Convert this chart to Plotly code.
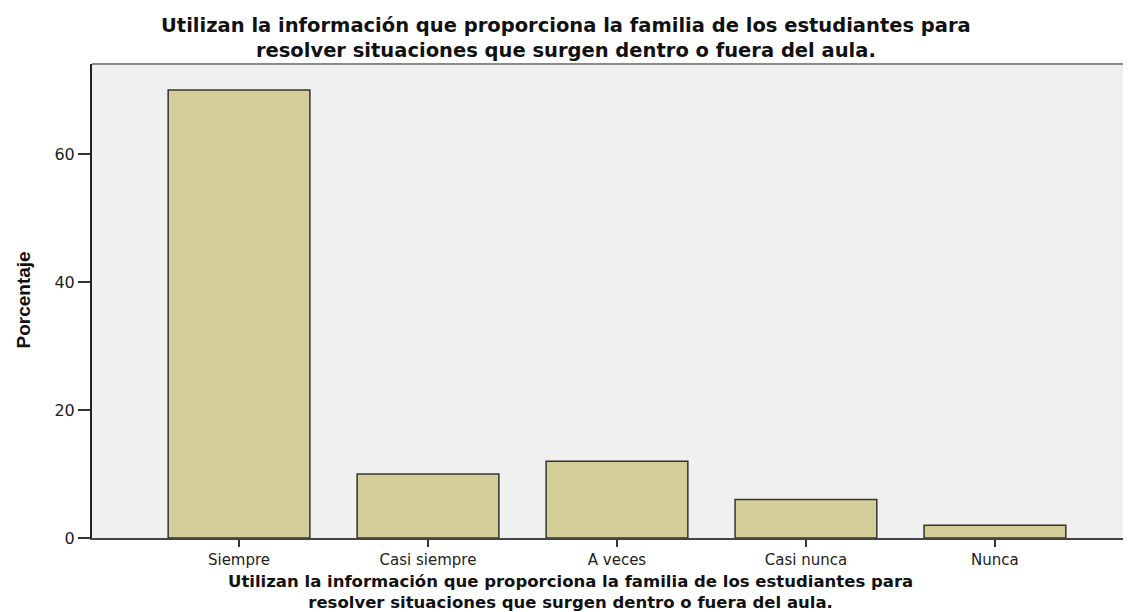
import plotly.graph_objects as go

categories = ["Siempre", "Casi siempre", "A veces", "Casi nunca", "Nunca"]
percent = [70, 10, 12, 6, 2]
y_ticks = [0, 20, 40, 60]
title_lines = ["Utilizan la información que proporciona la familia de los estudiantes para",
               "resolver situaciones que surgen dentro o fuera del aula."]
y_title = "Porcentaje"

# page body has an 8px offset, so the figure is 8px smaller than the window
OFF = 8
W, H = 1131 - OFF, 612 - OFF
L, R, T, B = 92 - OFF, 0, 64 - OFF, 612 - 538
PW, PH = W - L - R, H - T - B


def px_x(xw):
    return (xw - OFF - L) / PW


def px_y(yw):
    return (H - B - (yw - OFF)) / PH


fig = go.Figure()
fig.add_trace(go.Bar(
    x=list(range(len(categories))), y=percent,
    width=0.75,
    marker=dict(color="#d3cd98", line=dict(color="#333333", width=1.5)),
    hoverinfo="x+y",
))

title_html = "<b>" + "<br>".join(title_lines) + "</b>"
annotations = [
    dict(text=title_html, xref="paper", yref="paper",
         x=px_x(565.5), y=px_y(38.5), xanchor="center", yanchor="middle",
         align="center", showarrow=False,
         font=dict(family="DejaVu Sans", size=19.5, color="#111")),
    dict(text=title_html, xref="paper", yref="paper",
         x=px_x(570.5), y=px_y(591.5), xanchor="center", yanchor="middle",
         align="center", showarrow=False,
         font=dict(family="DejaVu Sans", size=16.5, color="#111")),
    dict(text="<b>" + y_title + "</b>", xref="paper", yref="paper",
         x=px_x(22.5), y=px_y(300), xanchor="center", yanchor="middle",
         textangle=-90, showarrow=False,
         font=dict(family="Liberation Sans", size=19, color="#111")),
]

fig.update_layout(
    width=W, height=H,
    margin=dict(l=L, r=R, t=T, b=B, pad=0),
    paper_bgcolor="white", plot_bgcolor="#f0f0f0",
    showlegend=False,
    font=dict(family="DejaVu Sans", color="#222"),
    xaxis=dict(
        range=[-0.778, 4.72],
        tickmode="array", tickvals=list(range(len(categories))), ticktext=categories,
        ticks="outside", ticklen=7, tickcolor="#333", tickwidth=1.5,
        tickfont=dict(family="DejaVu Sans", size=15, color="#222"),
        showgrid=False, zeroline=False,
        showline=True, linecolor="#444", linewidth=2,
    ),
    yaxis=dict(
        range=[0, 74.06],
        tickmode="array", tickvals=y_ticks, ticktext=[str(v) for v in y_ticks],
        ticks="outside", ticklen=12, tickcolor="#333", tickwidth=1.5,
        tickfont=dict(family="DejaVu Sans", size=16, color="#222"),
        showgrid=False, zeroline=False,
        showline=True, linecolor="#222", linewidth=2,
    ),
    shapes=[dict(type="line", xref="paper", yref="paper", x0=0, x1=1, y0=1, y1=1,
                 line=dict(color="#8a8a8a", width=2))],
    annotations=annotations,
)

fig.write_html("out.html")
